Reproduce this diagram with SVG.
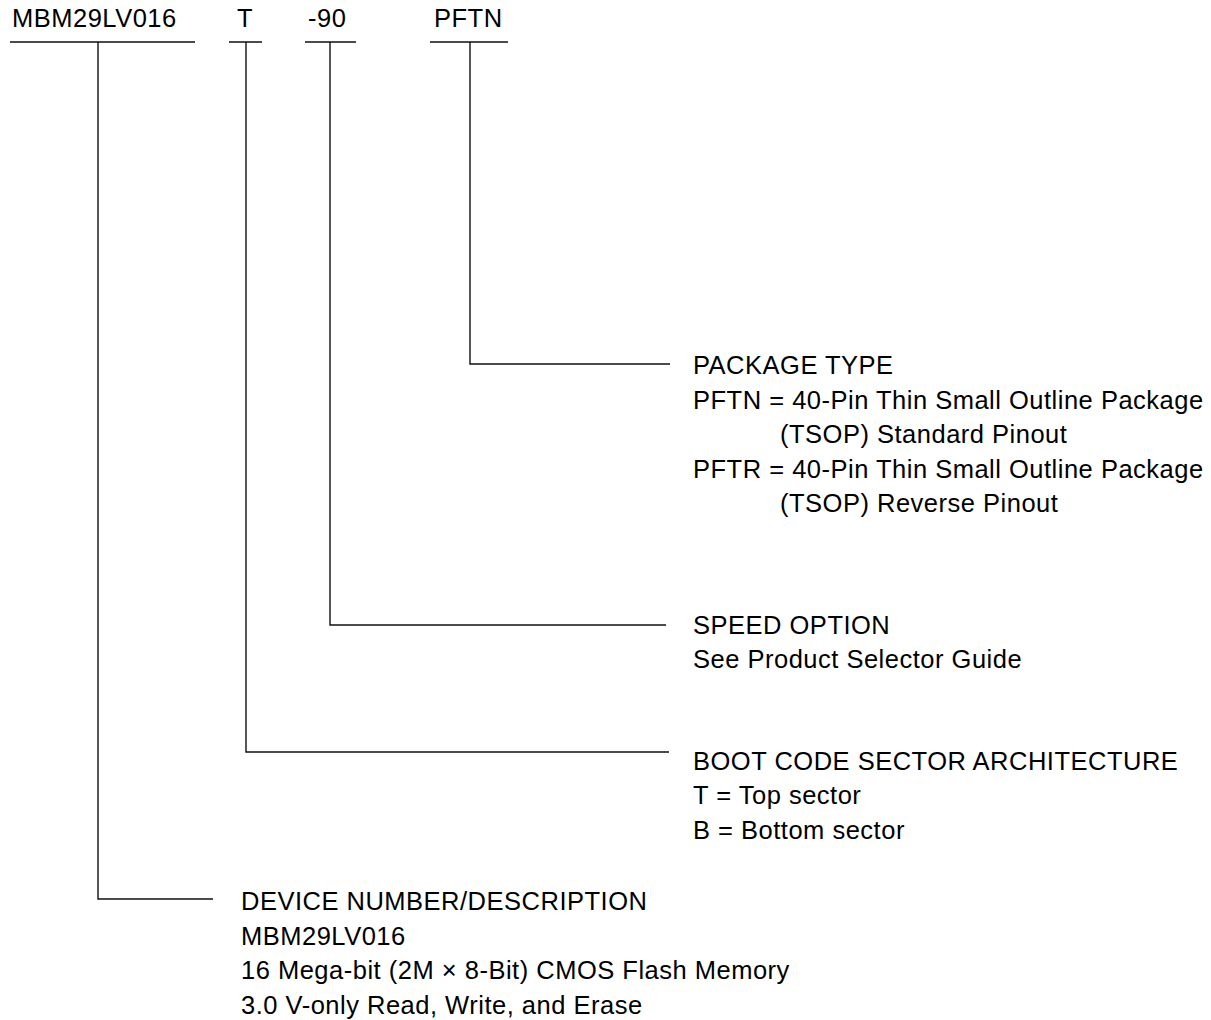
<svg xmlns="http://www.w3.org/2000/svg" width="1211" height="1020" viewBox="0 0 1211 1020">
<style>
text{font-family:"Liberation Sans",Arial,sans-serif;font-size:25.5px;letter-spacing:0.5px;fill:#000}
.ln{stroke:#111;stroke-width:1.4;fill:none}
</style>
<rect width="1211" height="1020" fill="#fff"/>
<g id="header">
<text x="12" y="27">MBM29LV016</text>
<text x="237" y="27">T</text>
<text x="308" y="27">-90</text>
<text x="434" y="27">PFTN</text>
</g>
<g id="connectors">
<path class="ln" d="M10 42H195M98 42V899H213"/>
<path class="ln" d="M229 42H262M246 42V752H669"/>
<path class="ln" d="M305 42H356M330 42V625H666"/>
<path class="ln" d="M430 42H508M470 42V364H670"/>
</g>
<g id="package">
<text x="693" y="374">PACKAGE TYPE</text>
<text x="693" y="408.5">PFTN = 40-Pin Thin Small Outline Package</text>
<text x="780" y="443">(TSOP) Standard Pinout</text>
<text x="693" y="477.5">PFTR = 40-Pin Thin Small Outline Package</text>
<text x="780" y="512">(TSOP) Reverse Pinout</text>
</g>
<g id="speed">
<text x="693" y="634">SPEED OPTION</text>
<text x="693" y="668">See Product Selector Guide</text>
</g>
<g id="boot">
<text x="693" y="770">BOOT CODE SECTOR ARCHITECTURE</text>
<text x="693" y="804">T = Top sector</text>
<text x="693" y="839">B = Bottom sector</text>
</g>
<g id="device">
<text x="241" y="910">DEVICE NUMBER/DESCRIPTION</text>
<text x="241" y="945">MBM29LV016</text>
<text x="241" y="979">16 Mega-bit (2M × 8-Bit) CMOS Flash Memory</text>
<text x="241" y="1014">3.0 V-only Read, Write, and Erase</text>
</g>
</svg>
